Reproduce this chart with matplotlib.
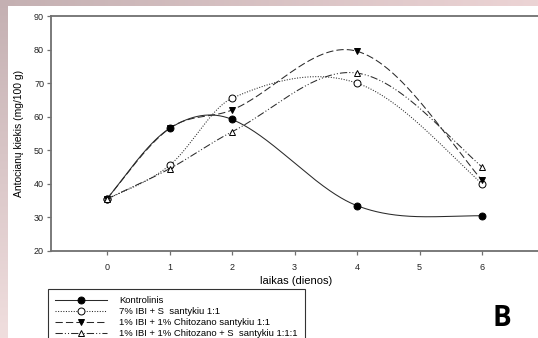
import numpy as np
import matplotlib
matplotlib.use("Agg")
import matplotlib.pyplot as plt
from matplotlib.lines import Line2D

plt.rcParams['font.family'] = ['Liberation Sans', 'DejaVu Sans']

days = [0, 1, 2, 4, 6]
kontrolinis = [35.5, 56.5, 59.2, 33.5, 30.5]
ibi_s = [35.5, 45.5, 65.5, 70.0, 40.0]
ibi_chit = [35.5, 56.5, 62.0, 79.5, 41.0]
ibi_chit_s = [35.5, 44.5, 55.5, 73.0, 45.0]
labels = ["Kontrolinis", "7% IBI + S  santykiu 1:1",
          "1% IBI + 1% Chitozano santykiu 1:1",
          "1% IBI + 1% Chitozano + S  santykiu 1:1:1"]
xticks = [0, 1, 2, 3, 4, 5, 6]
yticks = [20, 30, 40, 50, 60, 70, 80, 90]


def smooth_curve(x, y, xs):
    """Catmull-Rom style cubic Hermite curve through the data points."""
    x = np.asarray(x, float); y = np.asarray(y, float); n = len(x)
    m = np.zeros(n)
    for i in range(1, n - 1):
        m[i] = (y[i + 1] - y[i - 1]) / (x[i + 1] - x[i - 1])
    # blend of one-sided and natural end tangents
    d0 = (y[1] - y[0]) / (x[1] - x[0])
    dn = (y[-1] - y[-2]) / (x[-1] - x[-2])
    m[0] = 0.5 * (d0 + (3 * d0 - m[1]) / 2)
    m[-1] = 0.5 * (dn + (3 * dn - m[-2]) / 2)
    out = np.empty_like(xs)
    for k, t in enumerate(xs):
        i = min(max(np.searchsorted(x, t) - 1, 0), n - 2)
        h = x[i + 1] - x[i]; s = (t - x[i]) / h
        h00 = 2 * s**3 - 3 * s**2 + 1; h10 = s**3 - 2 * s**2 + s
        h01 = -2 * s**3 + 3 * s**2; h11 = s**3 - s**2
        out[k] = h00 * y[i] + h10 * h * m[i] + h01 * y[i + 1] + h11 * h * m[i + 1]
    return out


W, H = 538, 338
fig = plt.figure(figsize=(W / 100, H / 100), dpi=100)

# slide background decorations
bg = fig.add_axes([0, 0, 1, 1], zorder=-10)
bg.set_axis_off()
img = np.ones((H, W, 3))
top_l = np.array([196, 176, 178]) / 255
top_r = np.array([236, 212, 213]) / 255
t = np.linspace(0, 1, W)[:, None]
img[0:6, :, :] = (top_l * (1 - t) + top_r * t)[None, :, :]
s = np.linspace(0, 1, H)[:, None]
left_t = np.array([196, 176, 178]) / 255
left_b = np.array([240, 222, 222]) / 255
img[:, 0:8, :] = (left_t * (1 - s) + left_b * s)[:, None, :]
bg.imshow(img, extent=[0, 1, 0, 1], aspect='auto')
bg.set_xlim(0, 1); bg.set_ylim(0, 1)

px = 62.5
x0 = 107
left_px = 51
xmin = (left_px - x0) / px
xmax = 7.0
ax_w = (xmax - xmin) * px / W
ax = fig.add_axes([left_px / W, 1 - 251 / H, ax_w, (251 - 16) / H])
ax.set_facecolor('none')
ax.set_xlim(xmin, xmax)
ax.set_ylim(20, 90)

xs = np.linspace(0, 6, 400)
series = [kontrolinis, ibi_s, ibi_chit, ibi_chit_s]
styles = [
    dict(ls='-', marker='o', mfc='black'),
    dict(ls=(0, (1, 1.5)), marker='o', mfc='white'),
    dict(ls=(0, (7, 3)), marker='v', mfc='black'),
    dict(ls=(0, (7, 2, 1, 2, 1, 2)), marker='^', mfc='white'),
]
handles = []
for vals, st in zip(series, styles):
    ax.plot(xs, smooth_curve(days, vals, xs), color='#2a2a2a', lw=0.75, ls=st['ls'])
    ax.plot(days, vals, ls='none', marker=st['marker'], ms=5, mfc=st['mfc'],
            mec='black', mew=0.7)
    handles.append(Line2D([], [], color='#2a2a2a', lw=0.75, ls=st['ls'],
                          marker=st['marker'], ms=5, mfc=st['mfc'], mec='black', mew=0.7))

ax.spines['right'].set_visible(False)
for sp in ['left', 'bottom', 'top']:
    ax.spines[sp].set_color('#707070')
    ax.spines[sp].set_linewidth(1.3)
ax.set_xticks(xticks)
ax.set_yticks(yticks)
ax.tick_params(axis='both', labelsize=6.5, color='#707070', length=3, width=0.9,
               labelcolor='#222222', pad=2)
ax.tick_params(axis='x', pad=6)
ax.set_xlabel("laikas (dienos)", fontsize=8)
ax.set_ylabel("Antocianų kiekis (mg/100 g)", fontsize=7.4)
ax.xaxis.set_label_coords((296 - left_px) / (ax_w * W), -(276 - 251) / (251 - 16))
ax.yaxis.set_label_coords((24 - left_px) / (ax_w * W), 0.5)

leg = fig.legend(handles, labels, loc='upper left',
                 bbox_to_anchor=(48 / W, 1 - 289 / H), fontsize=6.8,
                 frameon=True, fancybox=False, edgecolor='black',
                 handlelength=5.5, handletextpad=1.3, borderpad=0.75,
                 labelspacing=0.22, borderaxespad=0)
leg.get_frame().set_linewidth(0.8)

fig.text(502 / W, 1 - 319 / H, "B", fontsize=20, fontweight='bold',
         ha='center', va='center', family=['Open Sans', 'DejaVu Sans'])

fig.savefig("out.png", dpi=100)
